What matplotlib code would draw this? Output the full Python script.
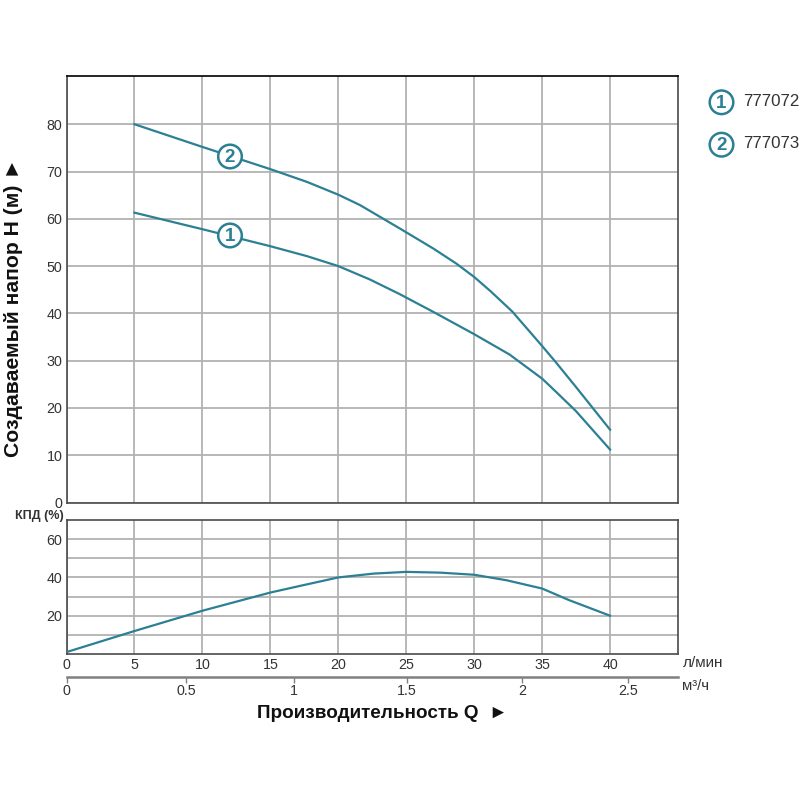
"""Pump performance curves: head and efficiency against flow."""

import matplotlib
matplotlib.use("Agg")
import matplotlib.pyplot as plt
from matplotlib.patches import Circle

plt.rcParams["font.family"] = ["Liberation Sans", "DejaVu Sans"]

TEAL = "#2C8094"
GRID = "#B2B2B2"
SPINE = "#4A4A4A"
TEXT = "#333333"

# head curves, flow in l/min
q_head_1 = [5, 10, 15, 17.7, 20, 22.3, 24.5, 27, 30, 32.6, 35, 36.1, 37.5, 40]
head_1 = [61.3, 57.8, 54.2, 52.1, 50, 47.2, 44.1, 40.3, 35.6, 31.3, 26.2, 23.2, 19.3, 11.2]

q_head_2 = [5, 10, 15, 17.7, 20, 21.6, 24.5, 27, 28.7, 30, 31.2, 32.8, 35, 36, 37.5, 40]
head_2 = [80, 75.2, 70.5, 67.8, 65.1, 62.9, 58, 53.7, 50.5, 47.7, 44.7, 40.4, 33.1, 29.7, 24.4, 15.4]

# efficiency curve
q_eff = [0, 5, 10, 15, 17.2, 20, 22.6, 25, 27.5, 30, 32.4, 35, 37, 40]
eff = [1, 12, 22.6, 32.1, 35.6, 40, 42, 42.9, 42.5, 41.4, 38.5, 34.2, 28.1, 20]

q_ticks = [0, 5, 10, 15, 20, 25, 30, 35, 40]
head_ticks = [0, 10, 20, 30, 40, 50, 60, 70, 80]
eff_major = [20, 40, 60]
eff_grid = [10, 20, 30, 40, 50, 60]

# m3/h scale does not quite line up with l/min in the original, so ticks are
# placed by where they sit on the l/min axis
m3h_labels = ["0", "0.5", "1", "1.5", "2", "2.5"]
m3h_at_q = [0, 8.8, 16.75, 25.05, 33.55, 41.3]

models = ["777072", "777073"]


def axes_px(left, top, right, bottom):
    return fig.add_axes([left / 800, 1 - bottom / 800, (right - left) / 800, (bottom - top) / 800])


def px_text(x, y, s, **kw):
    return fig.text(x / 800, 1 - y / 800, s, **kw)


def badge(x, y, text):
    fig.add_artist(Circle((x / 800, 1 - y / 800), 11.8 / 800, transform=fig.transFigure,
                          fc="white", ec=TEAL, lw=1.8, zorder=9))
    px_text(x, y + 1.2, text, fontsize=13.5, fontweight="bold", color=TEAL,
            ha="center", va="center", zorder=10)


fig = plt.figure(figsize=(8, 8), dpi=100)

# ── head panel ──
ax = axes_px(66.5, 76, 678, 502.5)
ax.set_xlim(0, 45)
ax.set_ylim(0, 90.2)
ax.plot(q_head_1, head_1, color=TEAL, lw=1.6, zorder=3, solid_joinstyle="round")
ax.plot(q_head_2, head_2, color=TEAL, lw=1.6, zorder=3, solid_joinstyle="round")
ax.set_xticks(q_ticks)
ax.set_xticklabels([])
ax.set_yticks(head_ticks)
ax.grid(True, color=GRID, lw=1.3, zorder=1)
ax.set_axisbelow(True)
ax.tick_params(axis="both", length=0, labelsize=10.3, labelcolor=TEXT, pad=3)

# ── efficiency panel ──
ax2 = axes_px(66.5, 520, 678, 654)
ax2.set_xlim(0, 45)
ax2.set_ylim(0, 70)
ax2.plot(q_eff, eff, color=TEAL, lw=1.6, zorder=3, solid_joinstyle="round")
ax2.set_xticks(q_ticks)
ax2.set_yticks(eff_major)
ax2.set_yticks(eff_grid, minor=True)
ax2.grid(True, which="both", color=GRID, lw=1.3, zorder=1)
ax2.set_axisbelow(True)
ax2.tick_params(axis="both", which="both", length=0, labelsize=10.3, labelcolor=TEXT, pad=3)

# ── m3/h scale ──
ax3 = axes_px(66.5, 677, 678, 678)
ax3.set_xlim(0, 45)
ax3.set_ylim(0, 1)
ax3.set_yticks([])
for side in ["top", "left", "right"]:
    ax3.spines[side].set_visible(False)
ax3.spines["bottom"].set_position(("axes", 1))
ax3.spines["bottom"].set_color("#808080")
ax3.spines["bottom"].set_linewidth(1.8)
ax3.set_xticks(m3h_at_q)
ax3.set_xticklabels(m3h_labels)
ax3.tick_params(axis="x", length=4, width=1, color="#808080", labelsize=10.3, labelcolor=TEXT, pad=1)

for a in [ax, ax2]:
    for s in a.spines.values():
        s.set_color(SPINE)
        s.set_linewidth(1.2)
ax.spines["top"].set_color("black")

# ── texts ──
px_text(14, 307, "Создаваемый напор H (м) ►", fontsize=15.2, fontweight="bold", color="#111111",
        rotation=90, ha="center", va="center")
px_text(15, 516.5, "КПД (%)", fontsize=9, fontweight="bold", color=TEXT, va="center")
px_text(682.5, 663, "л/мин", fontsize=11, color=TEXT, va="center")
px_text(682, 686, "м³/ч", fontsize=10.8, color=TEXT, va="center")
px_text(382, 713, "Производительность Q  ►", fontsize=13.6, fontweight="bold",
        color="#111111", ha="center", va="center")

badge(230, 156.5, "2")
badge(230, 235.5, "1")
for y, num, name in zip([102.3, 144.7], ["1", "2"], models):
    badge(721.5, y, num)
    px_text(743, y - 0.8, name, fontsize=12.2, color=TEXT, va="center")

fig.savefig("out.png", dpi=100)
plt.close("all")
